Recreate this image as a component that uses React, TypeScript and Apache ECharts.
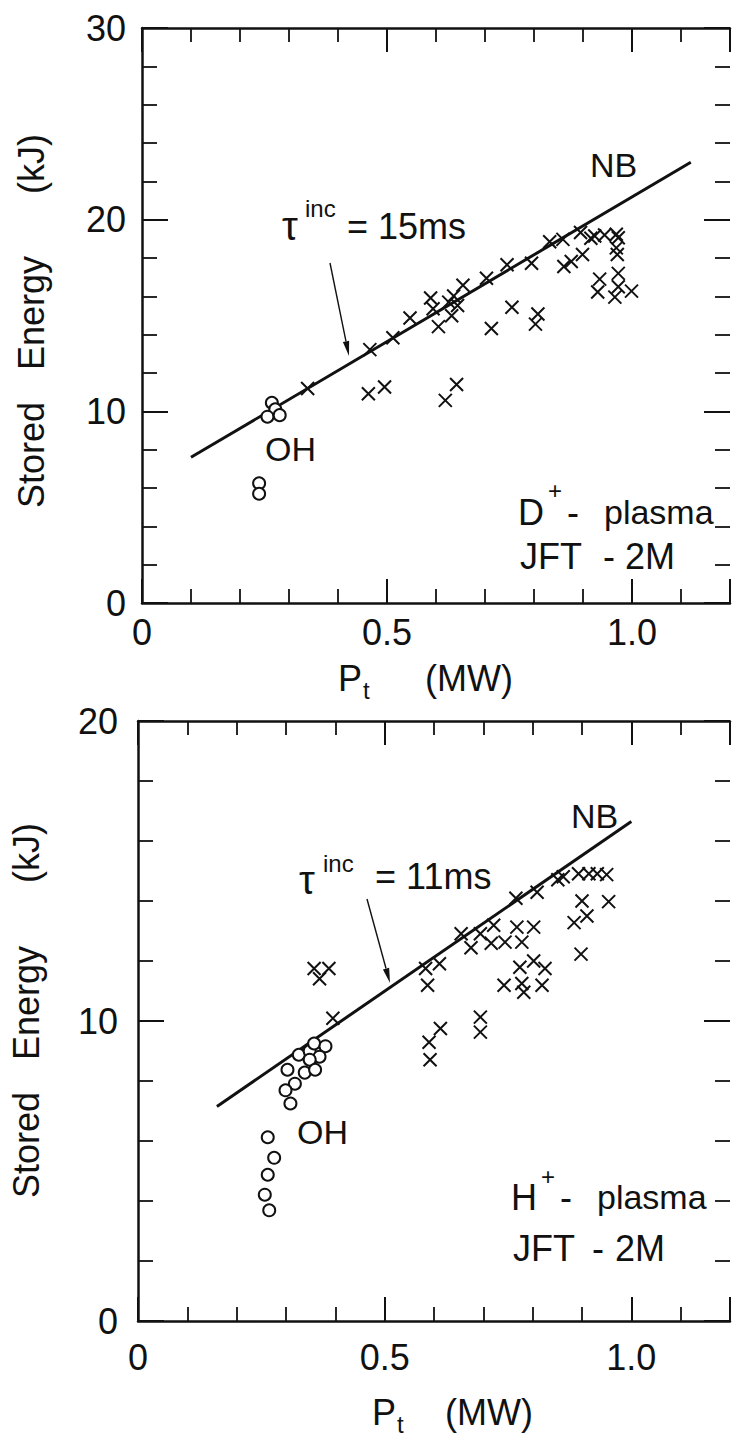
import React, { useEffect, useRef } from "react";
import * as echarts from "echarts";

// ---- Data ----
// Top panel: D+ plasma, JFT-2M
const topCrossP = [0.338, 0.465, 0.512, 0.547, 0.589, 0.594, 0.605, 0.626, 0.636, 0.632, 0.644, 0.655, 0.703, 0.745, 0.795, 0.832, 0.859, 0.895, 0.916, 0.924, 0.944, 0.968, 0.972, 0.968, 0.970, 0.861, 0.876, 0.899, 0.972, 0.934, 0.930, 0.972, 0.965, 0.999, 0.755, 0.713, 0.808, 0.803, 0.462, 0.495, 0.619, 0.642];
const topCrossW = [11.19, 13.22, 13.84, 14.87, 15.91, 15.35, 14.42, 15.70, 16.02, 14.99, 15.52, 16.58, 16.94, 17.65, 17.73, 18.85, 18.97, 19.33, 19.03, 19.15, 19.20, 19.24, 19.06, 18.53, 18.18, 17.56, 17.82, 18.18, 17.20, 16.90, 16.23, 16.50, 15.96, 16.27, 15.43, 14.32, 15.08, 14.55, 10.92, 11.27, 10.57, 11.40];
const topOhP = [0.265, 0.272, 0.256, 0.281, 0.239, 0.239];
const topOhW = [10.45, 10.1, 9.72, 9.8, 6.25, 5.7];
const topNbP = [0.1, 1.12];
const topNbW = [7.6, 23.0];

// Bottom panel: H+ plasma, JFT-2M
const botCrossP = [0.357, 0.387, 0.368, 0.395, 0.583, 0.611, 0.587, 0.590, 0.613, 0.592, 0.655, 0.675, 0.694, 0.721, 0.716, 0.744, 0.768, 0.778, 0.802, 0.766, 0.809, 0.851, 0.862, 0.893, 0.914, 0.931, 0.950, 0.900, 0.954, 0.884, 0.910, 0.898, 0.774, 0.802, 0.825, 0.742, 0.778, 0.782, 0.819, 0.694, 0.694];
const botCrossW = [11.75, 11.75, 11.41, 10.09, 11.75, 11.91, 11.19, 9.29, 9.75, 8.71, 12.91, 12.44, 12.91, 13.19, 12.59, 12.63, 13.13, 12.63, 13.13, 14.09, 14.29, 14.71, 14.81, 14.91, 14.91, 14.91, 14.88, 14.0, 13.98, 13.28, 13.5, 12.23, 11.79, 12.0, 11.75, 11.19, 11.25, 10.96, 11.19, 10.13, 9.63];
const botOhP = [0.303, 0.326, 0.348, 0.357, 0.380, 0.368, 0.348, 0.338, 0.359, 0.318, 0.299, 0.309, 0.263, 0.276, 0.263, 0.257, 0.266];
const botOhW = [8.375, 8.875, 9.0, 9.25, 9.16, 8.81, 8.71, 8.28, 8.375, 7.91, 7.69, 7.25, 6.125, 5.44, 4.875, 4.21, 3.69];
const botNbP = [0.16, 1.0];
const botNbW = [7.15, 16.65];

// Axis ranges / tick labels
const xMax = 1.2;
const topYMax = 30;
const botYMax = 20;
const xTickLabels: Record<string, string> = { "0": "0", "0.5": "0.5", "1": "1.0" };

const FONT = "'Liberation Sans', Arial, Helvetica, sans-serif";
const INK = "#111";

const zip = (a: number[], b: number[]) => a.map((v, i) => [v, b[i]]);

function xAxisPair(grid: number, margin: number) {
  const base: any = {
    type: "value",
    gridIndex: grid,
    min: 0,
    max: xMax,
    interval: 0.5,
    splitLine: { show: false },
    axisLine: { show: true, onZero: false, lineStyle: { color: INK, width: 2.5 } },
    axisTick: { inside: true, length: 24, lineStyle: { color: INK, width: 2 } },
    minorTick: { show: true, splitNumber: 5, length: 14, lineStyle: { color: INK, width: 1.8 } },
  };
  return [
    {
      ...base,
      position: "bottom",
      axisLabel: {
        show: true,
        margin,
        fontSize: 36,
        fontFamily: FONT,
        color: INK,
        formatter: (v: number) => {
          const k = String(Math.round(v * 10) / 10);
          return xTickLabels[k] ?? "";
        },
      },
    },
    { ...base, position: "top", axisLabel: { show: false } },
  ];
}

function yAxisPair(grid: number, max: number, margin: number) {
  const base: any = {
    type: "value",
    gridIndex: grid,
    min: 0,
    max,
    interval: 10,
    splitLine: { show: false },
    axisLine: { show: true, onZero: false, lineStyle: { color: INK, width: 2.5 } },
    axisTick: { inside: true, length: 26, lineStyle: { color: INK, width: 2 } },
    minorTick: { show: true, splitNumber: 5, length: 15, lineStyle: { color: INK, width: 1.8 } },
  };
  return [
    {
      ...base,
      position: "left",
      axisLabel: { show: true, margin, fontSize: 36, fontFamily: FONT, color: INK },
    },
    {
      ...base,
      position: "right",
      axisLine: { show: false, onZero: false },
      axisLabel: { show: false },
    },
  ];
}

const CROSS = "path://M0 0L10 10M10 0L0 10";

function crossSeries(xi: number, yi: number, data: number[][]) {
  return {
    type: "scatter",
    xAxisIndex: xi,
    yAxisIndex: yi,
    data,
    symbol: CROSS,
    symbolSize: 13,
    itemStyle: { color: "transparent", borderColor: INK, borderWidth: 2, opacity: 1 },
    silent: true,
  };
}
function circleSeries(xi: number, yi: number, data: number[][], size: number) {
  return {
    type: "scatter",
    xAxisIndex: xi,
    yAxisIndex: yi,
    data,
    symbol: "circle",
    symbolSize: size,
    itemStyle: { color: "#fff", borderColor: INK, borderWidth: 2, opacity: 1 },
    silent: true,
  };
}
function lineSeries(xi: number, yi: number, data: number[][]) {
  return {
    type: "line",
    xAxisIndex: xi,
    yAxisIndex: yi,
    data,
    showSymbol: false,
    symbol: "none",
    lineStyle: { color: INK, width: 3 },
    silent: true,
    z: 1,
  };
}

function txt(x: number, y: number, text: string, size = 36, rotation = 0, align = "left") {
  return {
    type: "text",
    x,
    y,
    rotation,
    style: {
      text,
      fontSize: size,
      fontFamily: FONT,
      fill: INK,
      textAlign: align,
      align,
      textVerticalAlign: "middle",
      verticalAlign: "middle",
    },
    silent: true,
  };
}

function arrow(x1: number, y1: number, x2: number, y2: number) {
  const dx = x2 - x1;
  const dy = y2 - y1;
  const len = Math.sqrt(dx * dx + dy * dy);
  const ux = dx / len;
  const uy = dy / len;
  const hl = 15;
  const hw = 3.2;
  const bx = x2 - ux * hl;
  const by = y2 - uy * hl;
  return [
    { type: "line", shape: { x1, y1, x2: bx, y2: by }, style: { stroke: INK, lineWidth: 1.4 }, silent: true },
    {
      type: "polygon",
      shape: { points: [[x2, y2], [bx - uy * hw, by + ux * hw], [bx + uy * hw, by - ux * hw]] },
      style: { fill: INK },
      silent: true,
    },
  ];
}

export default function App() {
  const ref = useRef<HTMLDivElement>(null);
  useEffect(() => {
    if (!ref.current) return;
    const chart = echarts.init(ref.current, undefined, { renderer: "svg", width: 733, height: 1438 });
    const R = Math.PI / 2;
    const option: any = {
      animation: false,
      backgroundColor: "#fff",
      grid: [
        { left: 142, top: 28, width: 600, height: 575 },
        { left: 138, top: 721, width: 602, height: 600 },
      ],
      xAxis: [...xAxisPair(0, 11), ...xAxisPair(1, 18)],
      yAxis: [...yAxisPair(0, topYMax, 16), ...yAxisPair(1, botYMax, 20)],
      series: [
        lineSeries(0, 0, zip(topNbP, topNbW)),
        crossSeries(0, 0, zip(topCrossP, topCrossW)),
        circleSeries(0, 0, zip(topOhP, topOhW), 12),
        lineSeries(2, 2, zip(botNbP, botNbW)),
        crossSeries(2, 2, zip(botCrossP, botCrossW)),
        circleSeries(2, 2, zip(botOhP, botOhW), 12),
      ],
      graphic: {
        elements: [
          // top panel annotations
          txt(590, 165, "NB", 34),
          txt(282, 226, "τ", 40),
          txt(305, 208, "inc", 24),
          txt(347, 226, "= 15ms", 36),
          ...arrow(330, 263, 349, 356),
          txt(265, 449, "OH", 34),
          txt(518, 512, "D", 36),
          txt(548, 490, "+", 24),
          txt(567, 512, "-", 36),
          txt(604, 512, "plasma", 34),
          txt(520, 556, "JFT", 36),
          txt(603, 556, "-", 36),
          txt(625, 556, "2M", 36),
          // top axis titles
          txt(31, 455, "Stored", 36, R, "center"),
          txt(31, 313, "Energy", 36, R, "center"),
          txt(31, 164, "(kJ)", 36, R, "center"),
          txt(338, 678, "P", 36),
          txt(363, 690, "t", 24),
          txt(425, 678, "(MW)", 36),
          // bottom panel annotations
          txt(571, 816, "NB", 34),
          txt(299, 880, "τ", 40),
          txt(323, 863, "inc", 24),
          txt(375, 876, "= 11ms", 36),
          ...arrow(367, 899, 390, 983),
          txt(297, 1132, "OH", 34),
          txt(511, 1197, "H", 36),
          txt(541, 1176, "+", 24),
          txt(560, 1197, "-", 36),
          txt(597, 1197, "plasma", 34),
          txt(513, 1248, "JFT", 36),
          txt(592, 1248, "-", 36),
          txt(615, 1248, "2M", 36),
          // bottom axis titles
          txt(26, 1145, "Stored", 36, R, "center"),
          txt(26, 1003, "Energy", 36, R, "center"),
          txt(26, 853, "(kJ)", 36, R, "center"),
          txt(372, 1412, "P", 36),
          txt(397, 1424, "t", 24),
          txt(445, 1412, "(MW)", 36),
        ],
      },
    };
    chart.setOption(option);
    return () => chart.dispose();
  }, []);
  return (
    <div
      ref={ref}
      style={{ position: "absolute", left: 0, top: 0, width: 733, height: 1438, background: "#fff" }}
    />
  );
}
